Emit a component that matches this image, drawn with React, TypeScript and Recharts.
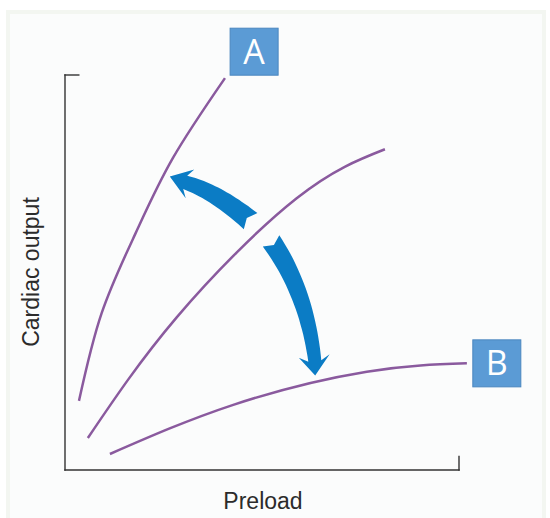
import React from 'react';
import {
  ComposedChart,
  Line,
  Scatter,
  XAxis,
  YAxis,
  ReferenceLine,
  ReferenceDot,
  Customized,
} from 'recharts';

// curves (x: preload, y: cardiac output, 0-100 on the drawn axes)
const curveA = [
  { x: 3.55, y: 17.5 },
  { x: 9.3, y: 39.7 },
  { x: 17.9, y: 59.9 },
  { x: 27.4, y: 79.0 },
  { x: 40.6, y: 99.2 },
];

const curveMid = [
  { x: 5.8, y: 8.1 },
  { x: 28.4, y: 38.7 },
  { x: 58.8, y: 68.8 },
  { x: 81.2, y: 81.2 },
];

const curveB = [
  { x: 11.4, y: 4.05 },
  { x: 42.7, y: 16.5 },
  { x: 76.6, y: 24.9 },
  { x: 102.0, y: 27.0 },
];

// arrows: tail, middle, head base, tip
const arrowUp = [
  { x: 47.1, y: 63.0 },
  { x: 38.5, y: 69.2 },
  { x: 30.5, y: 72.8 },
  { x: 26.6, y: 74.3 },
];

const arrowDown = [
  { x: 52.3, y: 58.0 },
  { x: 59.6, y: 43.9 },
  { x: 63.4, y: 27.6 },
  { x: 63.5, y: 23.9 },
];

const labels = [
  { text: 'A', x: 48.0, y: 105.9 },
  { text: 'B', x: 109.6, y: 27.0 },
];

const xTitle = 'Preload';
const yTitle = 'Cardiac output';

const PURPLE = '#8a5a9e';
const ARROW = '#0b7cc5';
const AXIS = '#333333';

type Pt = { x: number; y: number };

// builds a curved, tapered arrow from the scaled centre points
const makeArrow = (w0: number, w1: number, headW: number) => (props: any) => {
  const pts: Pt[] = props.points || [];
  if (pts.length < 4) return <g />;
  const [t, m, h, tip] = pts;
  const c = { x: 2 * m.x - (t.x + h.x) / 2, y: 2 * m.y - (t.y + h.y) / 2 };
  const n = 24;
  const left: number[][] = [];
  const right: number[][] = [];
  for (let i = 0; i <= n; i++) {
    const s = i / n;
    const px = (1 - s) * (1 - s) * t.x + 2 * (1 - s) * s * c.x + s * s * h.x;
    const py = (1 - s) * (1 - s) * t.y + 2 * (1 - s) * s * c.y + s * s * h.y;
    const dx = 2 * (1 - s) * (c.x - t.x) + 2 * s * (h.x - c.x);
    const dy = 2 * (1 - s) * (c.y - t.y) + 2 * s * (h.y - c.y);
    const len = Math.hypot(dx, dy) || 1;
    const nx = -dy / len;
    const ny = dx / len;
    const w = (w0 + (w1 - w0) * s) / 2;
    left.push([px + nx * w, py + ny * w]);
    right.push([px - nx * w, py - ny * w]);
  }
  const ex = h.x - c.x;
  const ey = h.y - c.y;
  const el = Math.hypot(ex, ey) || 1;
  const ux = ex / el;
  const uy = ey / el;
  const back = 5;
  const hb1 = [h.x - uy * (headW / 2) - ux * back, h.y + ux * (headW / 2) - uy * back];
  const hb2 = [h.x + uy * (headW / 2) - ux * back, h.y - ux * (headW / 2) - uy * back];
  const sx = c.x - t.x;
  const sy = c.y - t.y;
  const sl = Math.hypot(sx, sy) || 1;
  const notch = [t.x + (sx / sl) * 5, t.y + (sy / sl) * 5];
  const f = (p: number[]) => `${p[0].toFixed(1)},${p[1].toFixed(1)}`;
  let d = `M${f(left[0])}`;
  left.slice(1).forEach((p) => (d += ` L${f(p)}`));
  d += ` L${f(hb1)} L${tip.x.toFixed(1)},${tip.y.toFixed(1)} L${f(hb2)}`;
  right
    .slice()
    .reverse()
    .forEach((p) => (d += ` L${f(p)}`));
  d += ` L${f(notch)} Z`;
  return <path d={d} fill={ARROW} stroke="none" />;
};

const LabelBox = (text: string) => (props: any) => {
  const { cx, cy } = props;
  return (
    <g>
      <rect x={cx - 24} y={cy - 23.5} width={48} height={47} fill="#5b9bd5" stroke="#4a86bf" strokeWidth={1} />
      <text
        x={cx}
        y={cy + 12}
        textAnchor="middle"
        fill="#ffffff"
        fontSize={34}
        fontFamily="'Open Sans', sans-serif"
      >
        {text}
      </text>
    </g>
  );
};

const AxisTitles = () => (
  <g fontFamily="'Liberation Sans', Arial, sans-serif" fill="#2b2b2b" fontSize={23}>
    <text x={263} y={509} textAnchor="middle">
      {xTitle}
    </text>
    <text x={39} y={272} textAnchor="middle" transform="rotate(-90 39 272)">
      {yTitle}
    </text>
  </g>
);

const App: React.FC = () => {
  return (
    <div style={{ position: 'absolute', left: 0, top: 0, width: 550, height: 518, background: '#ffffff' }}>
      <div
        style={{
          position: 'absolute',
          left: 6,
          top: 10,
          width: 540,
          height: 508,
          background: '#f3f6f1',
        }}
      >
        <div style={{ position: 'absolute', left: 4, top: 4, right: 4, bottom: 0, background: '#fbfcfc' }} />
      </div>
      <div style={{ position: 'absolute', left: 0, top: 0 }}>
        <ComposedChart
          width={550}
          height={518}
          margin={{ top: 15.75, right: 12.2, bottom: 48, left: 65 }}
        >
          <XAxis dataKey="x" type="number" domain={[0, 120]} hide allowDataOverflow />
          <YAxis dataKey="y" type="number" domain={[0, 115]} hide allowDataOverflow />

          <ReferenceLine segment={[{ x: 0, y: 0 }, { x: 0, y: 100 }]} stroke={AXIS} strokeWidth={1.4} strokeLinecap="square" />
          <ReferenceLine segment={[{ x: 0, y: 100 }, { x: 3.5, y: 100 }]} stroke={AXIS} strokeWidth={1.4} strokeLinecap="square" />
          <ReferenceLine segment={[{ x: 0, y: 0 }, { x: 100, y: 0 }]} stroke={AXIS} strokeWidth={1.4} strokeLinecap="square" />
          <ReferenceLine segment={[{ x: 100, y: 0 }, { x: 100, y: 3.4 }]} stroke={AXIS} strokeWidth={1.4} strokeLinecap="square" />

          <Line data={curveA} dataKey="y" type="natural" stroke={PURPLE} strokeWidth={2.5} dot={false} isAnimationActive={false} />
          <Line data={curveMid} dataKey="y" type="natural" stroke={PURPLE} strokeWidth={2.5} dot={false} isAnimationActive={false} />
          <Line data={curveB} dataKey="y" type="natural" stroke={PURPLE} strokeWidth={2.5} dot={false} isAnimationActive={false} />

          <Scatter data={arrowUp} line={makeArrow(21, 14, 30)} shape={() => <g />} isAnimationActive={false} />
          <Scatter data={arrowDown} line={makeArrow(20, 13, 31)} shape={() => <g />} isAnimationActive={false} />

          {labels.map((l) => (
            <ReferenceDot key={l.text} x={l.x} y={l.y} r={1} ifOverflow="visible" shape={LabelBox(l.text)} />
          ))}

          <Customized component={<AxisTitles />} />
        </ComposedChart>
      </div>
    </div>
  );
};

export default App;
